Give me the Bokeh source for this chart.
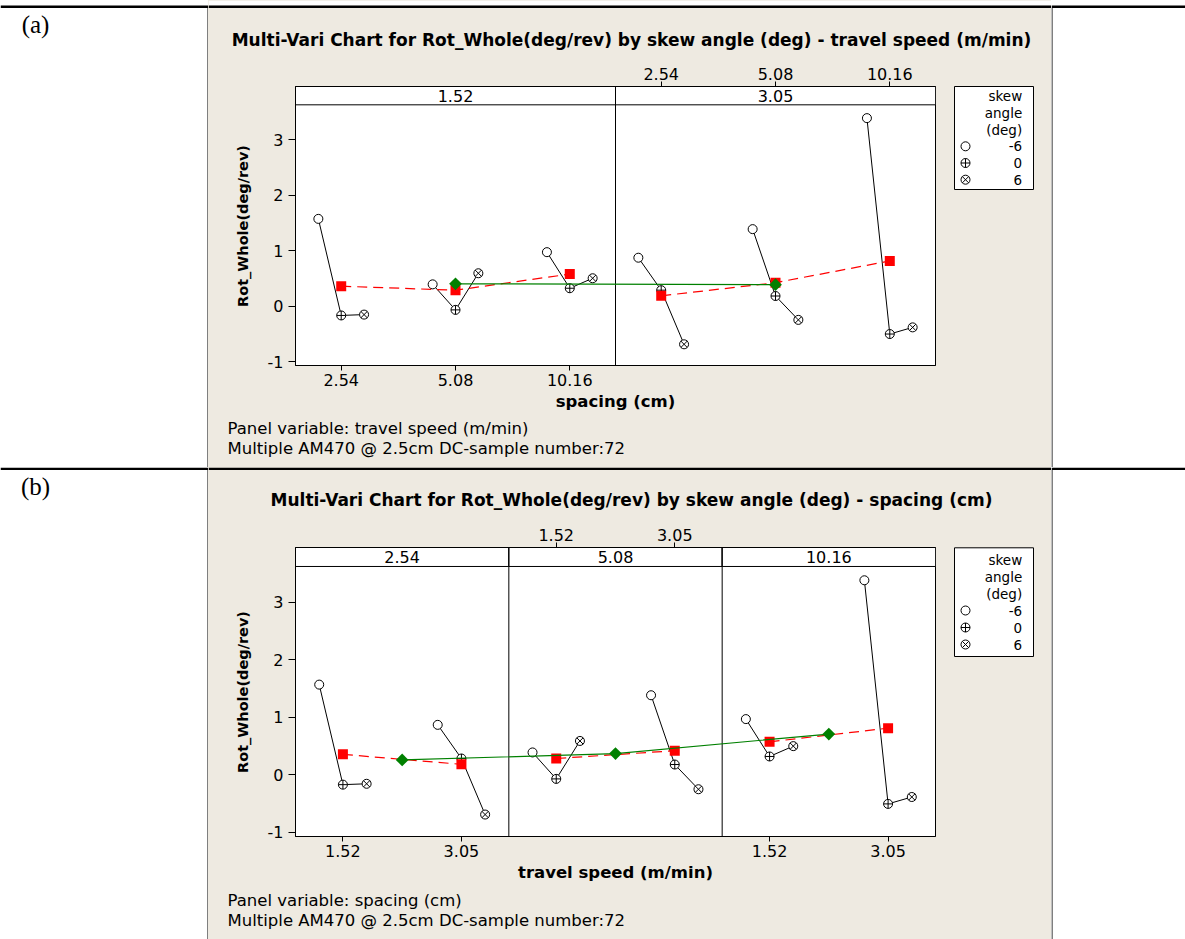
import numpy as np
from bokeh.plotting import figure
from bokeh.layouts import column, row
from bokeh.models import Range1d, FixedTicker, LinearAxis
from bokeh.embed import file_html
from bokeh.resources import INLINE
from bokeh.core.properties import value

# ---- factor levels ----
travel_speeds = ["1.52", "3.05"]          # m/min
spacings = ["2.54", "5.08", "10.16"]      # cm
skew_angles = ["-6", "0", "6"]            # deg

# ---- cell means of Rot_Whole (deg/rev); rows = travel speed, cols = spacing ----
rot_skew_neg6 = [[1.57, 0.39, 0.97], [0.87, 1.385, 3.385]]
rot_skew_0 = [[-0.17, -0.07, 0.32], [0.285, 0.18, -0.505]]
rot_skew_pos6 = [[-0.155, 0.59, 0.50], [-0.69, -0.25, -0.385]]

# means over skew angle; rows = travel speed, cols = spacing
rot_speed_spacing = [[0.357, 0.285, 0.575], [0.183, 0.42, 0.812]]
# panel means
rot_by_speed = [0.40, 0.385]
rot_by_spacing = [0.26, 0.37, 0.71]

y_ticks = [-1, 0, 1, 2, 3]
y_label = "Rot_Whole(deg/rev)"
title_a = "Multi-Vari Chart for Rot_Whole(deg/rev) by skew angle (deg) - travel speed (m/min)"
title_b = "Multi-Vari Chart for Rot_Whole(deg/rev) by skew angle (deg) - spacing (cm)"
footer_a = ["Panel variable: travel speed (m/min)", "Multiple AM470 @ 2.5cm DC-sample number:72"]
footer_b = ["Panel variable: spacing (cm)", "Multiple AM470 @ 2.5cm DC-sample number:72"]
legend_title = ["skew", "angle", "(deg)"]

rot_cells = [rot_skew_neg6, rot_skew_0, rot_skew_pos6]
skew_markers = ["circle", "circle_cross", "circle_x"]

BEIGE = "#EEEAE1"
FONT = "DejaVu Sans"
PAGE_W = 1185
BOX_LEFT, BOX_W = 208, 843          # beige box: page x 208 .. 1051
RIGHT_W = PAGE_W - BOX_LEFT - BOX_W
MAIN_W, LEG_W = 737, 106            # plot figure and legend strip inside the box
FRAME_L, FRAME_R = 87, 10
Y0, Y1, STRIP_LO = -1.072, 3.955, 3.625


def blank(w, h, fill="white"):
    f = figure(width=w, height=h, x_range=Range1d(0, w), y_range=Range1d(h, 0),
               output_backend="svg", toolbar_location=None, x_axis_type=None,
               y_axis_type=None, min_border=0, outline_line_color=None,
               background_fill_color=fill, border_fill_color=fill)
    f.frame_align = False
    return f


def style_axis(ax, tick_out):
    ax.major_tick_in = 0
    ax.major_tick_out = tick_out
    ax.minor_tick_line_color = None
    ax.axis_line_color = "black"
    ax.major_tick_line_color = "black"
    ax.major_label_text_font = FONT
    ax.major_label_text_font_size = "16px"
    ax.major_label_text_color = "black"
    ax.axis_label_text_font = FONT
    ax.axis_label_text_font_style = "bold"
    ax.axis_label_text_color = "black"


def multivari(panel_levels, x_levels, cell, cell_mean, panel_mean, x_label,
              height, border_top, border_bottom):
    n_p, n_x = len(panel_levels), len(x_levels)
    step = 5 * (n_x - 1) + 4

    def pos(pi, xi):
        return pi * step + 5 * xi

    x0, x1 = -2, pos(n_p - 1, n_x - 1) + 2

    p = figure(width=MAIN_W, height=height, x_range=Range1d(x0, x1), y_range=Range1d(Y0, Y1),
               output_backend="svg", toolbar_location=None, x_axis_type=None, y_axis_type=None,
               min_border_left=FRAME_L, min_border_right=FRAME_R,
               min_border_top=border_top, min_border_bottom=border_bottom,
               background_fill_color="white", border_fill_color=BEIGE,
               outline_line_color="black", outline_line_width=1)
    p.frame_align = False

    # panel strips and dividers
    lefts = [pos(i, 0) - 2 for i in range(n_p)]
    rights = [pos(i, n_x - 1) + 2 for i in range(n_p)]
    p.quad(left=lefts, right=rights, bottom=STRIP_LO, top=Y1, fill_color="white",
           line_color="black", line_width=1)
    p.segment(x0=rights[:-1], y0=Y0, x1=rights[:-1], y1=Y1, line_color="black", line_width=1)
    p.text(x=[(l + r) / 2 for l, r in zip(lefts, rights)], y=(STRIP_LO + Y1) / 2,
           text=panel_levels, text_font=value(FONT), text_font_size="16px",
           text_align="center", text_baseline="middle", text_color="black")

    offs = [-1, 0, 1]
    # connect the skew-angle means inside each cell
    xs_l, ys_l = [], []
    for pi in range(n_p):
        for xi in range(n_x):
            xs_l.append([pos(pi, xi) + o for o in offs])
            ys_l.append([cell(k, pi, xi) for k in range(3)])
    p.multi_line(xs_l, ys_l, line_color="black", line_width=1)

    for k in range(3):
        xs = [pos(pi, xi) + offs[k] for pi in range(n_p) for xi in range(n_x)]
        ys = [cell(k, pi, xi) for pi in range(n_p) for xi in range(n_x)]
        p.scatter(xs, ys, marker=skew_markers[k], size=9, fill_color="white",
                  line_color="black", line_width=1)

    # means over skew angle, joined inside each panel
    for pi in range(n_p):
        xs = [pos(pi, xi) for xi in range(n_x)]
        ys = [cell_mean(pi, xi) for xi in range(n_x)]
        p.line(xs, ys, line_color="#FF0000", line_width=1.2, line_dash="10 6")
    p.scatter([pos(pi, xi) for pi in range(n_p) for xi in range(n_x)],
              [cell_mean(pi, xi) for pi in range(n_p) for xi in range(n_x)],
              marker="square", size=10, fill_color="#FF0000", line_color=None)

    # panel means
    gx = [pos(pi, (n_x - 1) / 2) for pi in range(n_p)]
    gy = [panel_mean(pi) for pi in range(n_p)]
    p.line(gx, gy, line_color="#008000", line_width=1.2)
    p.scatter(gx, gy, marker="square", angle=np.pi / 4, size=9, fill_color="#008000",
              line_color=None)

    # axes: levels of even panels below, odd panels above
    yax = LinearAxis(ticker=FixedTicker(ticks=y_ticks),
                     major_label_overrides={t: str(t) for t in y_ticks},
                     axis_label=y_label)
    style_axis(yax, 7)
    yax.major_label_standoff = 5
    yax.axis_label_standoff = 14
    yax.axis_label_text_font_size = "14.5px"
    p.add_layout(yax, "left")

    bt = [pos(pi, xi) for pi in range(0, n_p, 2) for xi in range(n_x)]
    bl = [x_levels[xi] for pi in range(0, n_p, 2) for xi in range(n_x)]
    xax = LinearAxis(ticker=FixedTicker(ticks=bt), major_label_overrides=dict(zip(bt, bl)),
                     axis_label=x_label)
    style_axis(xax, 5)
    xax.major_label_standoff = 3
    xax.axis_label_standoff = 3
    xax.axis_label_text_font_size = "16.5px"
    p.add_layout(xax, "below")

    tt = [pos(pi, xi) for pi in range(1, n_p, 2) for xi in range(n_x)]
    tl = [x_levels[xi] for pi in range(1, n_p, 2) for xi in range(n_x)]
    tax = LinearAxis(ticker=FixedTicker(ticks=tt), major_label_overrides=dict(zip(tt, tl)))
    style_axis(tax, 5)
    tax.major_label_standoff = 2
    p.add_layout(tax, "above")
    return p


def header(h, title, y, rule_top, rule_bottom):
    f = blank(BOX_W, h, BEIGE)
    f.quad(left=0, right=BOX_W, top=0, bottom=rule_top, fill_color="white", line_color=None)
    f.quad(left=0, right=BOX_W, top=rule_top, bottom=rule_bottom, fill_color="black",
           line_color=None)
    f.text(x=631 - BOX_LEFT, y=y, text=[title], text_font=value(FONT),
           text_font_size="17px", text_font_style="bold", text_align="center",
           text_baseline="middle", text_color="black")
    return f


def footer(h, lines, ys):
    f = blank(BOX_W, h, BEIGE)
    f.text(x=227 - BOX_LEFT, y=ys, text=lines, text_font=value(FONT),
           text_font_size="16.5px", text_align="left", text_baseline="middle",
           text_color="black")
    return f


def legend_strip(h, box_top, box_bottom, first, pitch):
    f = blank(LEG_W, h, BEIGE)
    f.quad(left=9, right=88, top=box_top, bottom=box_bottom, fill_color="white",
           line_color="black", line_width=1)
    rows = [box_top + first + i * pitch for i in range(6)]
    f.text(x=76.7, y=rows, text=legend_title + skew_angles, text_font=value(FONT),
           text_font_size="13.5px", text_align="right", text_baseline="middle",
           text_color="black")
    for k in range(3):
        f.scatter([20], [rows[3 + k]], marker=skew_markers[k], size=9, fill_color="white",
                  line_color="black", line_width=1)
    return f


def side(w, h, rule_top, rule_bottom, line_x, label=None, label_y=0):
    f = blank(w, h)
    f.quad(left=0, right=w, top=rule_top, bottom=rule_bottom, fill_color="black",
           line_color=None)
    f.quad(left=line_x, right=line_x + 1, top=rule_bottom, bottom=h, fill_color="black",
           line_color=None)
    if label:
        f.text(x=35, y=label_y, text=[label], text_font=value("Liberation Serif"),
               text_font_size="25px", text_align="center", text_baseline="middle",
               text_color="black")
    return f


BOX_STYLE = {"background-color": BEIGE}

# ---- chart (a): panels = travel speed, x = spacing ----
HA, HA_HEAD, HA_MAIN, HA_FOOT = 467, 56, 361, 50
chart_a = multivari(travel_speeds, spacings,
                    lambda k, pi, xi: rot_cells[k][pi][xi],
                    lambda pi, xi: rot_speed_spacing[pi][xi],
                    lambda pi: rot_by_speed[pi],
                    "spacing (cm)", HA_MAIN, 30, 52)
block_a = row(
    side(BOX_LEFT, HA, 5, 7.5, BOX_LEFT - 1, "(a)", 24),
    column(header(HA_HEAD, title_a, 39.5, 5, 7.5),
           row(chart_a, legend_strip(HA_MAIN, 30, 133, 9.7, 16.7), styles=BOX_STYLE),
           footer(HA_FOOT, footer_a, [11, 31]), styles=BOX_STYLE),
    side(RIGHT_W, HA, 5, 7.5, 0),
)

# ---- chart (b): panels = spacing, x = travel speed ----
HB, HB_HEAD, HB_MAIN, HB_FOOT = 472, 51, 370, 51
chart_b = multivari(spacings, travel_speeds,
                    lambda k, pi, xi: rot_cells[k][xi][pi],
                    lambda pi, xi: rot_speed_spacing[xi][pi],
                    lambda pi: rot_by_spacing[pi],
                    "travel speed (m/min)", HB_MAIN, 29, 52)
block_b = row(
    side(BOX_LEFT, HB, 0, 2.5, BOX_LEFT - 1, "(b)", 19),
    column(header(HB_HEAD, title_b, 32.5, 0, 2.5),
           row(chart_b, legend_strip(HB_MAIN, 29.3, 138, 11.7, 17.0), styles=BOX_STYLE),
           footer(HB_FOOT, footer_b, [12, 32]), styles=BOX_STYLE),
    side(RIGHT_W, HB, 0, 2.5, 0),
)

page = column(block_a, block_b)

open("out.html", "w").write(file_html(page, INLINE))
